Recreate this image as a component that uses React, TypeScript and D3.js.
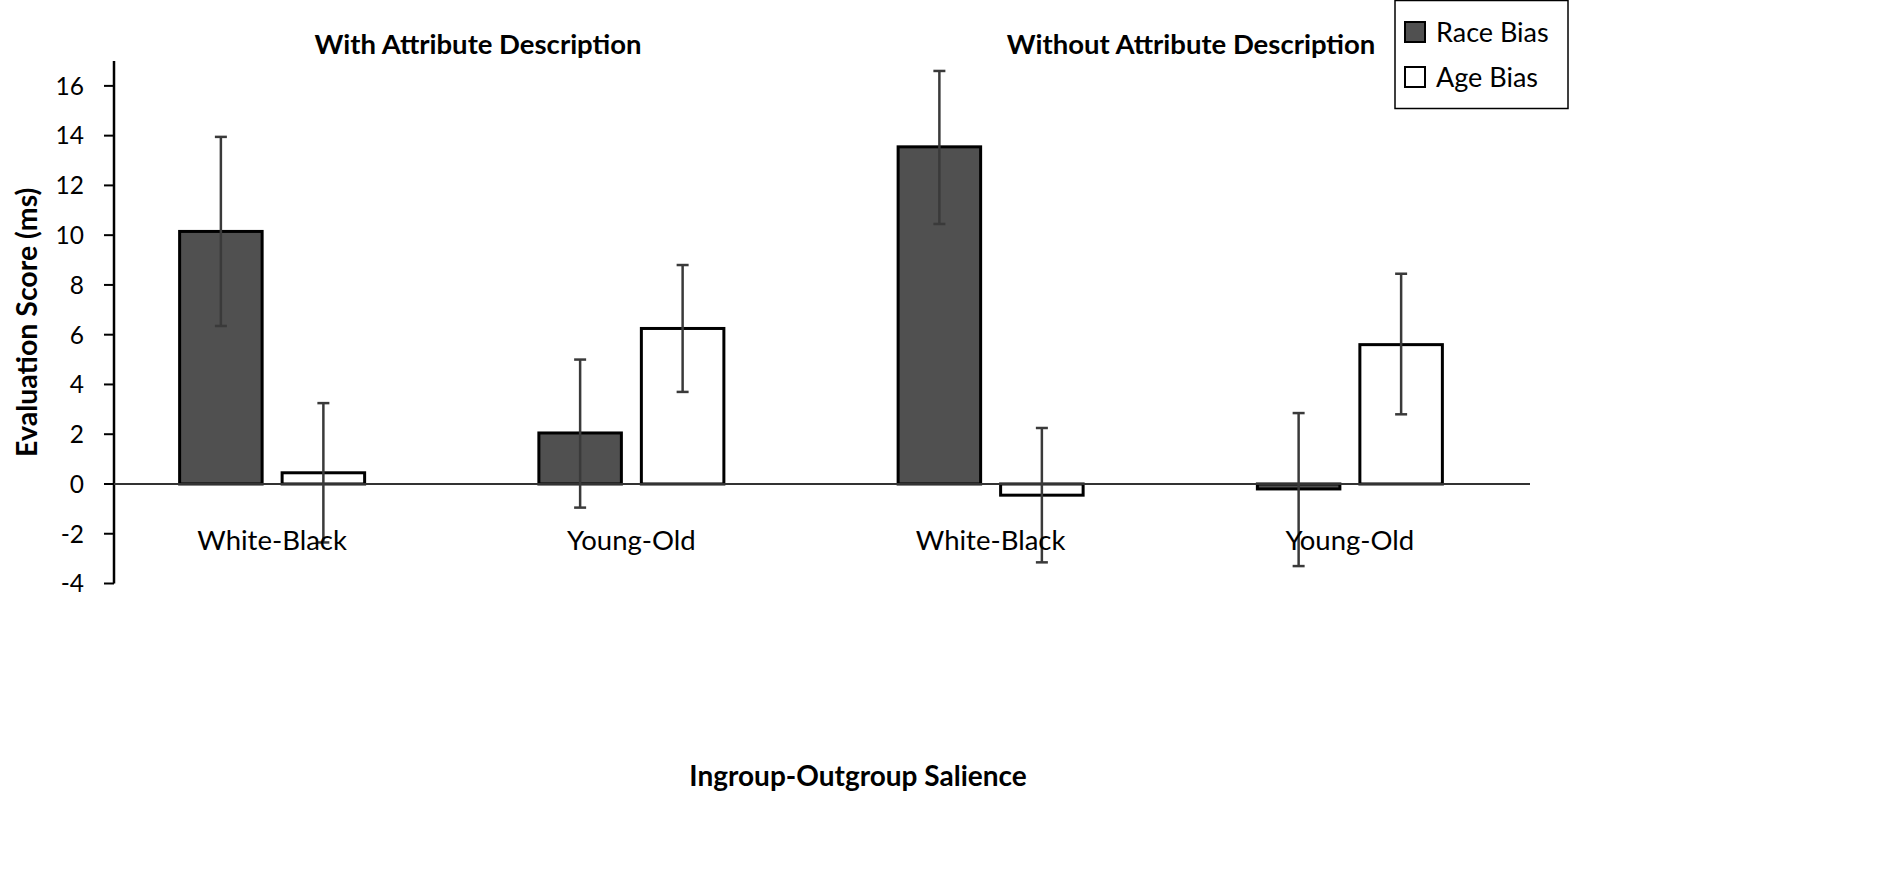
import React from "react";
import * as d3 from "d3";

// categories along the x axis (two panels, two contrasts each)
const categories = ["WB-with", "YO-with", "WB-without", "YO-without"];
const categoryLabels = ["White-Black", "Young-Old", "White-Black", "Young-Old"];
const panelTitles = ["With Attribute Description", "Without Attribute Description"];
const series = ["Race Bias", "Age Bias"];

// bar values (ms)
const raceBias = [10.15, 2.05, 13.55, -0.2];
const ageBias = [0.45, 6.25, -0.45, 5.6];

// error bar extents [low, high]
const raceErr: [number, number][] = [
  [6.35, 13.95],
  [-0.95, 5.0],
  [10.45, 16.6],
  [-3.3, 2.85],
];
const ageErr: [number, number][] = [
  [-2.35, 3.25],
  [3.7, 8.8],
  [-3.15, 2.25],
  [2.8, 8.45],
];

const yTicks = [-4, -2, 0, 2, 4, 6, 8, 10, 12, 14, 16];

const W = 1902;
const H = 870;
const FONT = "Lato, 'Open Sans', sans-serif";

const App: React.FC = () => {
  const axisX = 114;
  const plotRight = 1530;
  const titleX = [478, 1191];

  const y = d3.scaleLinear().domain([-4, 17]).range([583.5, 61]);
  const x = d3.scaleBand<string>().domain(categories).range([92.5, 1529.5]);
  const xs = d3
    .scaleBand<string>()
    .domain(series)
    .range([0, x.bandwidth()])
    .paddingInner(0.195)
    .paddingOuter(0.85);

  const fills = ["#505050", "#ffffff"];
  const values = [raceBias, ageBias];
  const errs = [raceErr, ageErr];

  return (
    <svg
      width={W}
      height={H}
      style={{ position: "absolute", left: 0, top: 0, background: "#fff" }}
      fontFamily={FONT}
    >
      {/* panel titles */}
      {panelTitles.map((t, i) => (
        <text
          key={t}
          x={titleX[i]}
          y={54}
          textAnchor="middle"
          fontSize={27.5}
          fontWeight="bold"
        >
          {t}
        </text>
      ))}

      {/* y axis */}
      <line x1={axisX} x2={axisX} y1={y(17)} y2={y(-4)} stroke="#000" strokeWidth={2.5} />
      {yTicks.map((t) => (
        <g key={t} transform={`translate(0,${y(t)})`}>
          <line x1={axisX - 10} x2={axisX} stroke="#000" strokeWidth={2} />
          <text x={axisX - 30} dy="0.36em" textAnchor="end" fontSize={24.5}>
            {t}
          </text>
        </g>
      ))}

      {/* bars */}
      {categories.map((c, ci) => (
        <g key={c} transform={`translate(${x(c)},0)`}>
          {series.map((s, si) => {
            const v = values[si][ci];
            return (
              <rect
                key={s}
                x={xs(s) || 0}
                width={xs.bandwidth()}
                y={y(Math.max(0, v))}
                height={Math.abs(y(v) - y(0))}
                fill={fills[si]}
                stroke="#000"
                strokeWidth={3}
              />
            );
          })}
        </g>
      ))}

      {/* zero line */}
      <line x1={axisX} x2={plotRight} y1={y(0)} y2={y(0)} stroke="#333" strokeWidth={2} />

      {/* error bars */}
      {categories.map((c, ci) => (
        <g key={c} transform={`translate(${x(c)},0)`}>
          {series.map((s, si) => {
            const cx = (xs(s) || 0) + xs.bandwidth() / 2;
            const [lo, hi] = errs[si][ci];
            return (
              <g key={s} stroke="#3a3a3a" strokeWidth={2.5}>
                <line x1={cx} x2={cx} y1={y(lo)} y2={y(hi)} />
                <line x1={cx - 6} x2={cx + 6} y1={y(lo)} y2={y(lo)} />
                <line x1={cx - 6} x2={cx + 6} y1={y(hi)} y2={y(hi)} />
              </g>
            );
          })}
        </g>
      ))}

      {/* category labels */}
      {categories.map((c, ci) => (
        <text
          key={c}
          x={(x(c) || 0) + x.bandwidth() / 2}
          y={550}
          textAnchor="middle"
          fontSize={27.5}
        >
          {categoryLabels[ci]}
        </text>
      ))}

      {/* axis titles */}
      <text
        transform={`translate(37,${(y(17) + y(-4)) / 2}) rotate(-90)`}
        textAnchor="middle"
        fontSize={28.5}
        fontWeight="bold"
      >
        Evaluation Score (ms)
      </text>
      <text x={858} y={786} textAnchor="middle" fontSize={28} fontWeight="bold">
        Ingroup-Outgroup Salience
      </text>

      {/* legend */}
      <g transform="translate(1395,0)">
        <rect x={0} y={0.5} width={173} height={108} fill="#fff" stroke="#000" strokeWidth={1.5} />
        {series.map((s, si) => (
          <g key={s} transform={`translate(10,${32 + si * 45})`}>
            <rect x={0} y={-10} width={20} height={20} fill={fills[si]} stroke="#000" strokeWidth={2} />
            <text x={31} dy="0.36em" fontSize={27}>
              {s}
            </text>
          </g>
        ))}
      </g>
    </svg>
  );
};

export default App;
